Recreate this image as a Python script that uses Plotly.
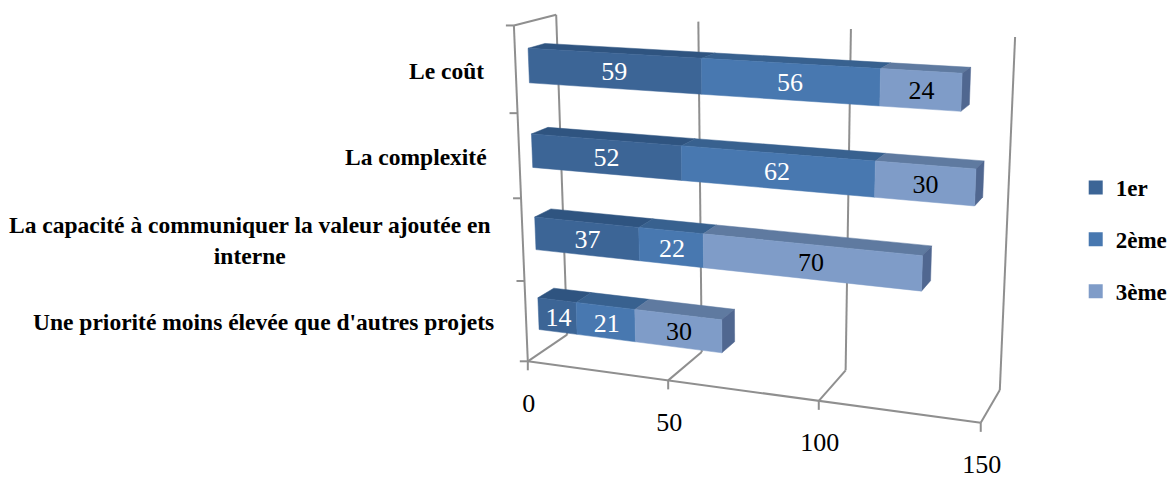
import numpy as np
import plotly.graph_objects as go

categories = ["Le coût", "La complexité", "La capacité à communiquer la valeur ajoutée en<br>interne",
              "Une priorité moins élevée que d'autres projets"]
series_names = ["1er", "2ème", "3ème"]
premier = [59, 52, 37, 14]
deuxieme = [56, 62, 22, 21]
troisieme = [24, 30, 70, 30]
value_ticks = [0, 50, 100, 150]

FRONT = ["#3C6596", "#4878B0", "#7F9CC8"]
TOP = ["#2F5480", "#38618F", "#5F7AA0"]
SIDE = ["#2F5480", "#38618F", "#506790"]
LABEL = ["white", "white", "black"]
GRID = "#8F8F8F"
FONT = "Liberation Serif"

# Camera calibration of the oblique 3D box: (value, depth, height) -> page pixel
CAL = [(0, 0, 0, 528, 362), (50, 0, 0, 667, 380), (100, 0, 0, 819, 401), (150, 0, 0, 980, 422),
       (0, 1, 0, 568, 335), (50, 1, 0, 702, 351), (100, 1, 0, 847, 371), (150, 1, 0, 998, 392),
       (0, 0, 1, 514, 27), (0, 1, 1, 556, 14), (50, 1, 1, 699, 22), (100, 1, 1, 850, 28), (150, 1, 1, 1014, 37),
       (0, .3, .925, 528, 48), (0, .3, .825, 529, 83), (139, .3, .925, 963, 73), (139, .3, .825, 961, 113),
       (0, .3, .675, 532, 134), (0, .3, .575, 532, 168), (144, .3, .675, 976, 168), (144, .3, .575, 975, 205),
       (129, .3, .425, 923, 255), (129, .3, .325, 923, 292),
       (0, .3, .175, 538, 297), (0, .3, .075, 538, 329), (65, .3, .175, 722, 319), (65, .3, .075, 722, 353)]
A, b = [], []
for v, d, h, px, py in CAL:
    A.append([v, d, h, 1, 0, 0, 0, 0, -px * v, -px * d, -px * h]); b.append(px)
    A.append([0, 0, 0, 0, v, d, h, 1, -py * v, -py * d, -py * h]); b.append(py)
M = np.linalg.lstsq(np.array(A, float), np.array(b, float), rcond=None)[0]


def proj(v, d, h):
    w = M[8] * v + M[9] * d + M[10] * h + 1
    return ((M[0] * v + M[1] * d + M[2] * h + M[3]) / w,
            (M[4] * v + M[5] * d + M[6] * h + M[7]) / w)


fig = go.Figure()


def poly(points, color):
    xy = [proj(*p) for p in points]
    fig.add_trace(go.Scatter(x=[q[0] for q in xy] + [xy[0][0]], y=[q[1] for q in xy] + [xy[0][1]],
                             mode="lines", fill="toself", fillcolor=color, line=dict(width=0.5, color=color),
                             showlegend=False, hoverinfo="skip"))


# frame lines
lx, ly = [], []


def seg(p, q):
    lx.extend([p[0], q[0], None]); ly.extend([p[1], q[1], None])


for t in value_ticks:
    seg(proj(t, 1, 0), proj(t, 1, 1))
    seg(proj(t, 0, 0), proj(t, 1, 0))
    px, py = proj(t, 0, 0)
    seg((px, py), (px, py + 9))
seg(proj(0, 0, 0), proj(150, 0, 0))
seg(proj(0, 0, 0), proj(0, 0, 1))
seg(proj(0, 0, 1), proj(0, 1, 1))
for i in range(5):
    px, py = proj(0, 0, i / 4)
    seg((px, py), (px - 8, py))
fig.add_trace(go.Scatter(x=lx, y=ly, mode="lines", line=dict(color=GRID, width=2),
                         showlegend=False, hoverinfo="skip"))

# stacked 3D bars
D0, D1, HALF = 0.3, 0.7, 0.05
tx, ty, tt, tc = [], [], [], []
for i in range(len(categories)):
    mid = 1 - (i + 0.5) / len(categories)
    h0, h1 = mid - HALF, mid + HALF
    vals = [premier[i], deuxieme[i], troisieme[i]]
    start = 0
    for k, val in enumerate(vals):
        end = start + val
        poly([(start, D0, h1), (end, D0, h1), (end, D1, h1), (start, D1, h1)], TOP[k])
        if k == 2:
            poly([(end, D0, h0), (end, D1, h0), (end, D1, h1), (end, D0, h1)], SIDE[k])
        poly([(start, D0, h0), (end, D0, h0), (end, D0, h1), (start, D0, h1)], FRONT[k])
        c = proj((start + end) / 2, D0, mid)
        tx.append(c[0] + 1); ty.append(c[1] + 3); tt.append(str(val)); tc.append(LABEL[k])
        start = end

fig.add_trace(go.Scatter(x=tx, y=ty, text=tt, mode="text", textposition="middle center", cliponaxis=False,
                         textfont=dict(family=FONT, size=26, color=tc), showlegend=False, hoverinfo="skip"))

# value axis labels
ticks_xy = [proj(t, 0, 0) for t in value_ticks]
fig.add_trace(go.Scatter(x=[p[0] + 1 for p in ticks_xy], y=[p[1] + 44 for p in ticks_xy],
                         text=[str(t) for t in value_ticks], mode="text", textposition="middle center",
                         cliponaxis=False,
                         textfont=dict(family=FONT, size=26, color="black"), showlegend=False, hoverinfo="skip"))

# category labels
for i, cat in enumerate(categories):
    px, py = proj(0, 0, 1 - (i + 0.5) / len(categories))
    fig.add_annotation(x=px - 30, y=py + 1, text=f"<b>{cat}</b>", showarrow=False, xanchor="right", yanchor="middle",
                       align="center", font=dict(family=FONT, size=23.5, color="black"))

# legend
for k, name in enumerate(series_names):
    fig.add_trace(go.Scatter(x=[None], y=[None], mode="markers", name=f"<b>{name}</b>", legendgroup=name,
                             marker=dict(symbol="square", size=14, color=FRONT[k])))

fig.update_layout(
    width=1169, height=477, margin=dict(l=0, r=0, t=0, b=0, autoexpand=False),
    paper_bgcolor="white", plot_bgcolor="white",
    xaxis=dict(range=[0, 1169], visible=False, fixedrange=True),
    yaxis=dict(range=[477, 0], visible=False, fixedrange=True),
    legend=dict(x=0.9202, y=0.652, xanchor="left", yanchor="top", bgcolor="rgba(0,0,0,0)",
                font=dict(family=FONT, size=23, color="black"),
                tracegroupgap=19, itemclick=False, itemdoubleclick=False),
)
fig.write_html("out.html", config=dict(displayModeBar=False),
               post_script="document.body.style.margin='0';document.body.style.overflow='hidden';")
